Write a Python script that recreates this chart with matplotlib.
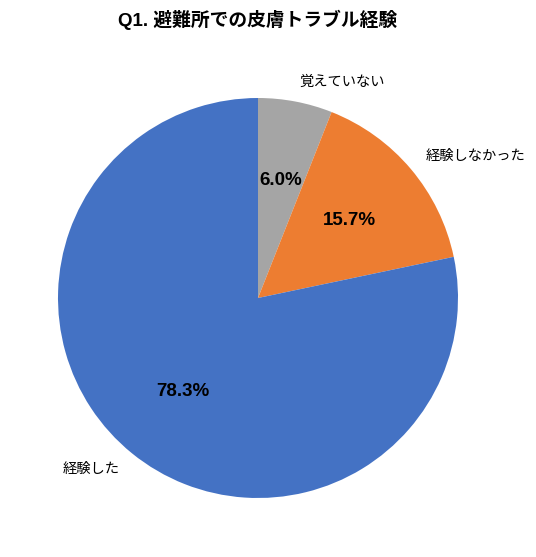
import matplotlib
matplotlib.use("Agg")
import matplotlib.pyplot as plt

plt.rcParams['font.family'] = ['Noto Sans CJK JP', 'DejaVu Sans']

# data
labels = ["覚えていない", "経験しなかった", "経験した"]
values = [6.0, 15.7, 78.3]
colors = ["#A5A5A5", "#ED7D31", "#4472C4"]

fig = plt.figure(figsize=(5.36, 5.57), dpi=100)
ax = fig.add_axes([58/536, 59/557, 400/536, 400/557])

wedges, texts, autotexts = ax.pie(values, labels=labels, colors=colors,
                                  startangle=90, counterclock=False,
                                  autopct="%.1f%%", pctdistance=0.6,
                                  labeldistance=1.1,
                                  textprops={'fontsize': 10.3})
for t in autotexts:
    t.set_fontsize(13.5)
    t.set_fontweight('bold')
    t.set_family(['Liberation Sans', 'Noto Sans CJK JP'])
ax.set_xlim(-1, 1)
ax.set_ylim(-1, 1)
ax.set_aspect('equal')

fig.text(258/536, 1 - 20/557, "Q1. 避難所での皮膚トラブル経験", ha='center', va='center',
         fontsize=13.5, fontweight='bold', family=['Liberation Sans', 'Noto Sans CJK JP'])

plt.savefig("out.png", dpi=100)
